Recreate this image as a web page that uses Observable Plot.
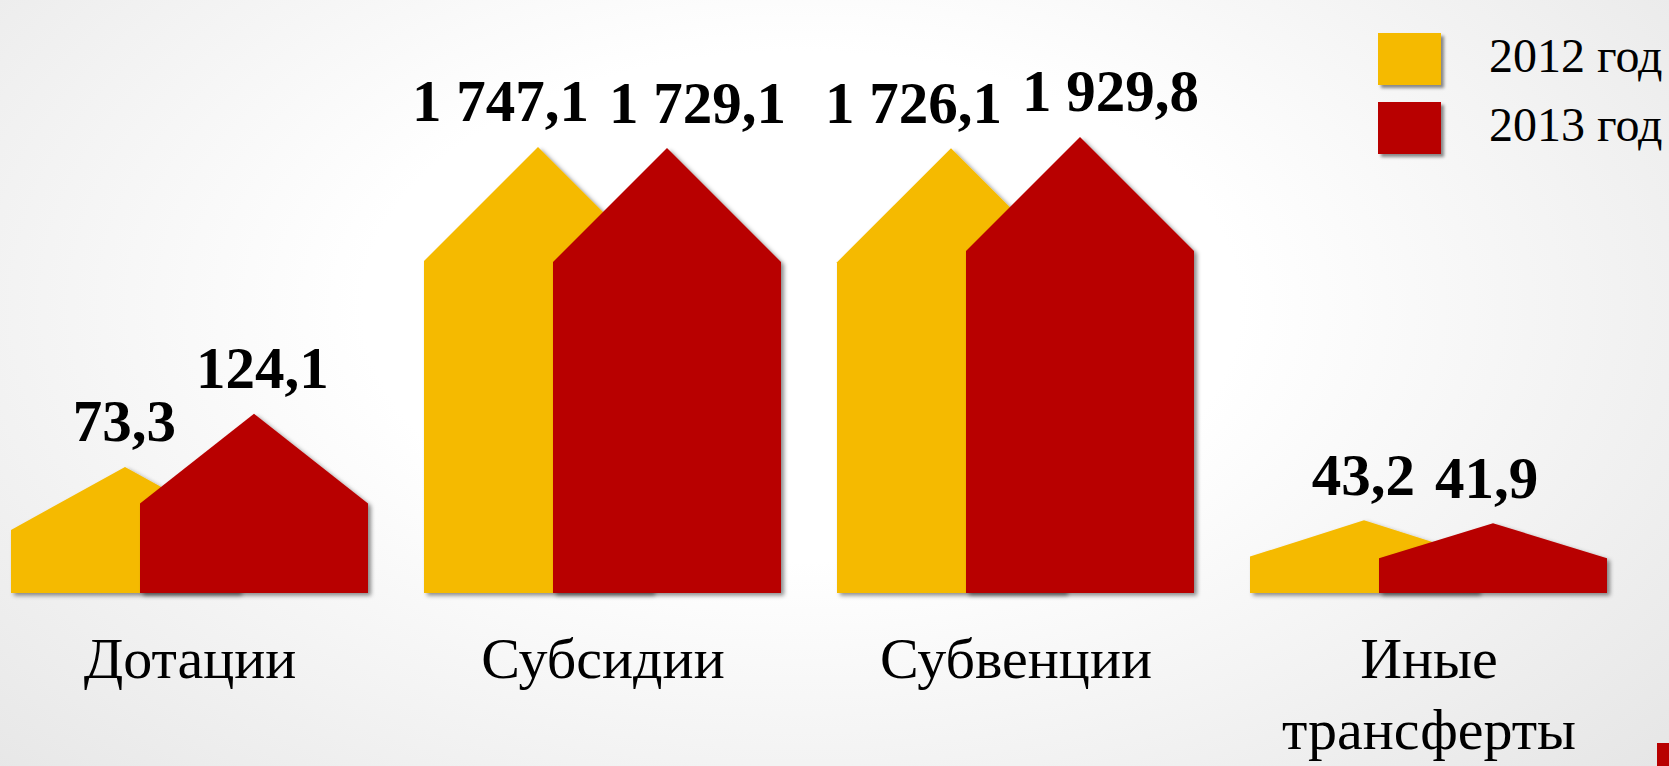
<!DOCTYPE html>
<html>
<head>
<meta charset="utf-8">
<script src="https://cdn.jsdelivr.net/npm/d3@7"></script>
<script src="https://cdn.jsdelivr.net/npm/@observablehq/plot@0.6"></script>
<style>
  html, body { margin: 0; padding: 0; }
  body {
    width: 1669px; height: 766px; overflow: hidden; position: relative;
    background: radial-gradient(ellipse 75% 95% at 48% 40%, #ffffff 35%, #e3e3e3 100%);
    font-family: "Liberation Serif", "Times New Roman", serif;
  }
  #chart { position: absolute; left: 0; top: 0; }
  .legend-item { position: absolute; left: 1378px; height: 52px; }
  .legend-item .sw { position: absolute; left: 0; top: 0; width: 63px; height: 52px; box-shadow: 3px 3px 3px rgba(0,0,0,0.45); }
  .legend-item .lb { position: absolute; left: 111px; top: -7px; font-size: 48px; line-height: 60px; white-space: nowrap; color: #000; }
  #corner { position: absolute; left: 1657px; top: 743px; width: 12px; height: 23px; background: #b80000; }
</style>
</head>
<body>
<div id="chart"></div>
<div id="legend"></div>
<div id="corner"></div>
<script>
// ---- data ----
const categories = ["Дотации", "Субсидии", "Субвенции", "Иные трансферты"];
const years = ["2012 год", "2013 год"];
const values2012 = [73.3, 1747.1, 1726.1, 43.2];
const values2013 = [124.1, 1729.1, 1929.8, 41.9];
const colors = ["#F5BA00", "#B80000"];

const yMin = 21;     // bottom of the log scale
const yMax = 7500;   // top of the log scale

const rows2012 = categories.map((c, i) => ({cat: c, year: years[0], value: values2012[i], base: yMin}));
const rows2013 = categories.map((c, i) => ({cat: c, year: years[1], value: values2013[i], base: yMin}));

const fmt = d3.formatLocale({decimal: ",", thousands: " ", grouping: [3], currency: ["", ""]}).format(",.1f");

const FONT = "Liberation Serif, Times New Roman, serif";
const OVERLAP = 129;

// draw each bar as a "house": rectangle body with a triangular roof
function house(insetL, insetR, color) {
  return function(index, scales, values) {
    const bw = scales.x.bandwidth();
    const g = d3.create("svg:g").attr("filter", "url(#houseShadow)");
    for (const i of index) {
      const xl = values.x[i] + insetL;
      const xr = values.x[i] + bw - insetR;
      const yb = values.y1[i];
      const yt = values.y2[i];
      const hw = (xr - xl) / 2;
      const roof = Math.min((yb - yt) / 2, hw);
      const xm = (xl + xr) / 2;
      g.append("path")
        .attr("d", `M${xl},${yb}V${yt + roof}L${xm},${yt}L${xr},${yt + roof}V${yb}Z`)
        .attr("fill", color);
    }
    return g.node();
  };
}

const plot = Plot.plot({
  width: 1669,
  height: 766,
  marginTop: 0,
  marginBottom: 766 - 593,
  marginLeft: 11,
  marginRight: 58,
  style: {background: "transparent", fontFamily: FONT, color: "#000", overflow: "visible"},
  x: {domain: categories, paddingInner: 0.135, paddingOuter: 0, align: 0},
  y: {type: "log", domain: [yMin, yMax], axis: null},
  marks: [
    Plot.barY(rows2012, {x: "cat", y1: "base", y2: "value", fill: colors[0], render: house(0, OVERLAP, colors[0])}),
    Plot.barY(rows2013, {x: "cat", y1: "base", y2: "value", fill: colors[1], render: house(OVERLAP, 0, colors[1])}),
    Plot.text(rows2012, {x: "cat", y: "value", text: d => fmt(d.value), dx: -14, dy: -26, lineAnchor: "bottom",
      textAnchor: "end", fontSize: 59, fontWeight: "bold", fontFamily: FONT, fill: "#000"}),
    Plot.text(rows2013, {x: "cat", y: "value", text: d => fmt(d.value), dx: 6, dy: -26, lineAnchor: "bottom",
      textAnchor: "start", fontSize: 59, fontWeight: "bold", fontFamily: FONT, fill: "#000"}),
    Plot.axisX({tickSize: 0, tickPadding: 33, fontSize: 58, fontFamily: FONT, fill: "#000", label: null,
      lineHeight: 1.24, tickFormat: d => d.replace(" ", "\n")})
  ]
});

d3.select(plot).insert("defs", ":first-child").html(
  `<filter id="houseShadow" x="-10%" y="-10%" width="130%" height="130%">
     <feDropShadow dx="3" dy="2.5" stdDeviation="2" flood-color="#000" flood-opacity="0.45"/>
   </filter>`);

document.getElementById("chart").appendChild(plot);

// legend
const legend = document.getElementById("legend");
const legendTops = [33, 102];
years.forEach((y, i) => {
  const item = document.createElement("div");
  item.className = "legend-item";
  item.style.top = legendTops[i] + "px";
  item.innerHTML = `<div class="sw" style="background:${colors[i]}"></div><div class="lb">${y}</div>`;
  legend.appendChild(item);
});
</script>
</body>
</html>
